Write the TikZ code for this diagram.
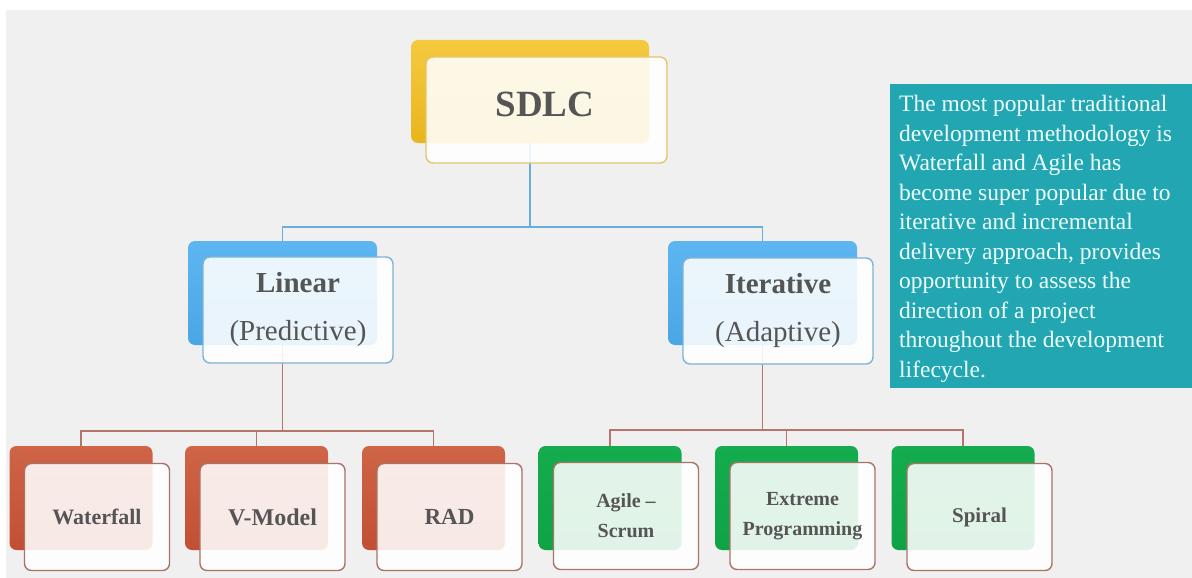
\documentclass[tikz,border=0pt]{standalone}
\usepackage{fontspec}
\setmainfont{Liberation Serif}

\definecolor{pageGray}{HTML}{F0F0F0}
\definecolor{sdlcTop}{HTML}{F5C93F}
\definecolor{sdlcBot}{HTML}{E9B51E}
\definecolor{sdlcEdge}{HTML}{E2C56C}
\definecolor{blueTop}{HTML}{5DB6F1}
\definecolor{blueBot}{HTML}{4AA6E4}
\definecolor{blueEdge}{HTML}{7DB3D5}
\definecolor{redTop}{HTML}{CF6447}
\definecolor{redBot}{HTML}{C24F33}
\definecolor{grnTop}{HTML}{14AC4E}
\definecolor{grnBot}{HTML}{0FA346}
\definecolor{leafEdge}{HTML}{A87466}
\definecolor{linkBlue}{HTML}{66AEDB}
\definecolor{linkBrown}{HTML}{B5766A}
\definecolor{noteTeal}{HTML}{21A6B2}
\definecolor{noteInk}{HTML}{F0FFFF}
\definecolor{labelGray}{HTML}{555555}

\tikzset{
  backbox/.style={rectangle, rounded corners=7pt, inner sep=0pt, draw=none},
  frontbox/.style={rectangle, rounded corners=7pt, inner sep=0pt,
    fill=white, fill opacity=0.88, text opacity=1, line width=1.4pt,
    text=labelGray, align=center},
  rootback/.style={backbox, minimum width=238pt, minimum height=103pt,
    top color=sdlcTop, bottom color=sdlcBot},
  rootfront/.style={frontbox, draw=sdlcEdge, minimum width=241pt, minimum height=106pt},
  midback/.style={backbox, minimum width=189pt, minimum height=104pt,
    top color=blueTop, bottom color=blueBot},
  midfront/.style={frontbox, draw=blueEdge, minimum width=190pt, minimum height=106pt,
    font=\fontsize{29}{48}\selectfont},
  leafback/.style={backbox, minimum width=143pt, minimum height=104pt},
  redback/.style={leafback, top color=redTop, bottom color=redBot},
  grnback/.style={leafback, top color=grnTop, bottom color=grnBot},
  leaffront/.style={frontbox, draw=leafEdge, minimum width=145pt, minimum height=107pt,
    font=\bfseries\fontsize{22}{30}\selectfont},
  bluelink/.style={draw=linkBlue, line width=1.4pt},
  brownlink/.style={draw=linkBrown, line width=1.4pt},
  notebox/.style={rectangle, fill=noteTeal, inner sep=0pt,
    minimum width=302pt, minimum height=304pt},
  notetext/.style={inner sep=0pt, align=left, text=noteInk,
    font=\fontsize{23.5}{29.5}\selectfont}
}

\begin{document}
\begin{tikzpicture}[x=1pt, y=-1pt]
  \useasboundingbox (0,0) rectangle (1192,578);
  % page and grey panel
  \fill[white] (0,0) rectangle (1192,578);
  \fill[pageGray] (6,10) rectangle (1192,578);

  % back (coloured) cards
  \node[rootback] (b-sdlc) at (530,91.5) {};
  \node[midback]  (b-lin)  at (282.5,293) {};
  \node[midback]  (b-it)   at (762.5,293) {};
  \node[redback]  (b-wf)   at (81,498) {};
  \node[redback]  (b-vm)   at (256.5,498) {};
  \node[redback]  (b-rad)  at (433.5,498) {};
  \node[grnback]  (b-ag)   at (610,498) {};
  \node[grnback]  (b-xp)   at (786.5,498) {};
  \node[grnback]  (b-sp)   at (963,498) {};

  % junction points of the tree
  \coordinate (j-root) at (530,227);
  \coordinate (j-lin)  at (282.5,431);
  \coordinate (j-it)   at (762.5,430);

  % connectors
  \draw[bluelink] (b-sdlc.south) -- (j-root);
  \draw[bluelink] (b-lin.north) |- (j-root) -| (b-it.north);

  \draw[brownlink] (b-lin.south) -- (j-lin);
  \draw[brownlink] (b-wf.north) |- (j-lin) -| (b-rad.north);
  \draw[brownlink] (b-vm.north) -- (b-vm.north |- j-lin);

  \draw[brownlink] (b-it.south) -- (j-it);
  \draw[brownlink] (b-ag.north) |- (j-it) -| (b-sp.north);
  \draw[brownlink] (b-xp.north) -- (b-xp.north |- j-it);

  % front (translucent) cards
  \node[rootfront] (sdlc) at (546.5,110) {};
  \node[text=labelGray, font=\bfseries\fontsize{37}{40}\selectfont] (sdlc-label)
    at (545,104) {SDLC};
  \node[midfront] (lin) at (298,310) {\textbf{Linear}\\(Predictive)};
  \node[midfront] (it)  at (778,311) {\textbf{Iterative}\\(Adaptive)};

  \node[leaffront] (wf)  at (97,517)    {Waterfall};
  \node[leaffront, font=\bfseries\fontsize{24}{30}\selectfont] (vm) at (272.5,517) {V-Model};
  \node[leaffront, font=\bfseries\fontsize{23}{30}\selectfont] (rad) at (449.5,517) {RAD};
  \node[leaffront, font=\bfseries\fontsize{20}{30}\selectfont] (ag) at (626,516) {Agile --\\Scrum};
  \node[leaffront, font=\bfseries\fontsize{20}{30}\selectfont] (xp) at (802.5,516) {Extreme\\Programming};
  \node[leaffront, font=\bfseries\fontsize{21}{30}\selectfont] (sp) at (979.5,517) {Spiral};

  % side note
  \node[notebox] (note) at (1041,236) {};
  \node[notetext, anchor=north west] (note-text) at (899,95)
    {The most popular traditional\\
     development methodology is\\
     Waterfall and Agile has\\
     become super popular due to\\
     iterative and incremental\\
     delivery approach, provides\\
     opportunity to assess the\\
     direction of a project\\
     throughout the development\\
     lifecycle.};
\end{tikzpicture}
\end{document}
